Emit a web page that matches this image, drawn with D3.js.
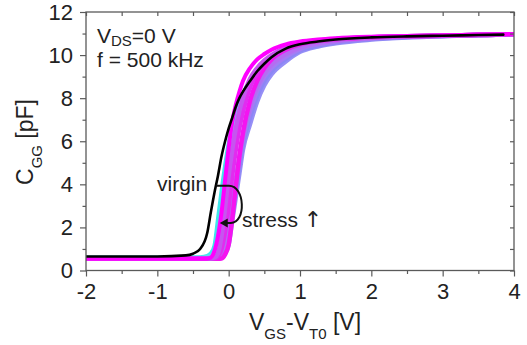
<!DOCTYPE html>
<html><head><meta charset="utf-8">
<script src="https://cdn.jsdelivr.net/npm/d3@7"></script>
<style>
html,body{margin:0;padding:0;background:#fff;}
svg{display:block;font-family:"Liberation Sans",Arial,sans-serif;}
</style></head>
<body>
<svg id="chart" width="527" height="345"></svg>
<script>
// ---------- data ----------
const vgs = [-2, -1, -0.6, -0.5, -0.4, -0.3, -0.25, -0.2, -0.15, -0.1, -0.05, 0, 0.05, 0.1, 0.15, 0.2, 0.3, 0.4, 0.5, 0.6, 0.8, 1.0, 1.25, 1.5, 2.0, 2.5, 3.0, 3.5, 3.85, 4.0];

const cVirgin  = [0.65,0.65,0.7,0.78,1.0,1.75,2.7,3.6,4.4,5.3,6.0,6.6,7.1,7.6,8.0,8.3,8.8,9.25,9.6,9.9,10.3,10.5,10.63,10.72,10.82,10.87,10.9,10.93,10.95,null];
const cCyan    = [0.6,0.6,0.6,0.61,0.62,0.68,0.8,1.15,2.4,3.7,4.9,5.9,6.7,7.3,7.8,8.2,8.8,9.22,9.56,9.86,10.26,10.48,10.61,10.7,10.8,10.86,10.9,10.93,10.95,10.96];
const cLightBlue=[0.58,0.58,0.58,0.58,0.59,0.62,0.68,0.85,1.6,2.8,4.1,5.3,6.3,7.0,7.6,8.05,8.7,9.15,9.5,9.8,10.2,10.45,10.6,10.7,10.8,10.86,10.9,10.93,10.95,10.96];
const cViolet1 = [0.55,0.55,0.55,0.55,0.55,0.55,0.55,0.55,0.56,0.6,0.8,1.2,2.3,3.4,4.5,5.6,6.8,7.85,8.6,9.1,9.7,10.15,10.4,10.55,10.72,10.82,10.88,10.92,10.95,10.96];
const cBlue    = [0.55,0.55,0.55,0.55,0.55,0.55,0.55,0.55,0.56,0.62,0.9,1.5,2.65,3.8,4.85,5.85,7.1,8.1,8.8,9.25,9.82,10.22,10.45,10.6,10.75,10.84,10.89,10.93,10.95,10.96];
const cViolet2 = [0.55,0.55,0.55,0.55,0.55,0.55,0.55,0.55,0.56,0.65,1.0,1.8,3.0,4.2,5.2,6.1,7.4,8.35,9.0,9.4,9.92,10.28,10.5,10.63,10.77,10.85,10.89,10.93,10.95,10.97];
const cViolet3 = [0.55,0.55,0.55,0.55,0.55,0.55,0.55,0.55,0.56,0.62,0.9,1.5,2.7,4.05,5.25,6.25,7.65,8.55,9.15,9.55,10.05,10.35,10.55,10.67,10.79,10.86,10.9,10.93,10.95,10.97];
const cMagenta1= [0.55,0.55,0.55,0.55,0.55,0.55,0.55,0.55,0.55,0.56,0.75,1.2,2.4,3.9,5.3,6.4,7.9,8.8,9.4,9.8,10.25,10.5,10.65,10.73,10.82,10.87,10.9,10.93,10.95,10.97];
const cMagenta3= [0.55,0.55,0.55,0.55,0.55,0.55,0.55,0.56,0.65,1.0,1.8,3.0,4.4,5.6,6.6,7.35,8.5,9.15,9.6,9.9,10.3,10.53,10.66,10.74,10.83,10.88,10.91,10.94,10.96,10.97];
const cPurple  = [0.55,0.55,0.55,0.55,0.55,0.55,0.56,0.6,0.8,1.6,2.9,4.4,5.6,6.6,7.4,8.0,8.9,9.4,9.75,10.0,10.35,10.55,10.67,10.75,10.83,10.88,10.91,10.94,10.96,10.97];
const cMagenta2= [0.55,0.55,0.55,0.55,0.55,0.55,0.6,0.9,1.6,2.7,4.2,5.7,6.9,7.7,8.3,8.8,9.4,9.8,10.05,10.25,10.5,10.63,10.72,10.78,10.85,10.89,10.92,10.95,10.97,10.98];

const seriesNames  = ["cyan","lightblue","violet1","blue","violet2","violet3","magenta1","magenta3","purple","magenta2","virgin"];
const seriesValues = [cCyan, cLightBlue, cViolet1, cBlue, cViolet2, cViolet3, cMagenta1, cMagenta3, cPurple, cMagenta2, cVirgin];
const seriesColors = ["#3fe6ea","#6fd0f2","#968ff6","#8c86f5","#a57cf4","#b56cf2","#f414f0","#e22cf0","#c655ef","#ff00ff","#000000"];
const seriesWidths = [4, 4, 4.5, 4.5, 4.5, 4.5, 4.5, 4.5, 4.5, 4, 2.6];

const xMajor = [-2,-1,0,1,2,3,4];
const xMinor = [-1.5,-0.5,0.5,1.5,2.5,3.5];
const yMajor = [0,2,4,6,8,10,12];
const yMinor = [1,3,5,7,9,11];

// annotation arrow in data units [V, C]
const arrowPts = [[-0.178,3.93],[0.004,3.93]];
const arrowCurve = [[0.004,3.93],[0.23,3.93],[0.25,2.23],[0.03,2.21]];
const arrowTip = [-0.125,2.21];

// ---------- layout ----------
const svg = d3.select("#chart");
const L = 86, R = 514, T = 12, B = 270.5;
const x = d3.scaleLinear().domain([-2,4]).range([L,R]);
const y = d3.scaleLinear().domain([0,12]).range([B,T]);
const axisColor = "#5a5a5a";
const textColor = "#222";

svg.append("rect").attr("width",527).attr("height",345).attr("fill","#fff");

svg.append("clipPath").attr("id","clip").append("rect")
  .attr("x",L).attr("y",T).attr("width",R-L).attr("height",B-T);

// ---------- curves ----------
const line = d3.line()
  .defined(d => d[1] != null)
  .x(d => x(d[0])).y(d => y(d[1]))
  .curve(d3.curveMonotoneX);

const g = svg.append("g").attr("clip-path","url(#clip)");
seriesValues.forEach((vals,i) => {
  g.append("path")
    .datum(vgs.map((v,j) => [v, vals[j]]))
    .attr("d", line)
    .attr("fill","none")
    .attr("stroke", seriesColors[i])
    .attr("stroke-width", seriesWidths[i])
    .attr("stroke-linejoin","round")
    .attr("stroke-linecap","round");
});

// ---------- axes ----------
function styleAxis(sel){
  sel.select(".domain").remove();
  sel.selectAll("line").attr("stroke",axisColor).attr("stroke-width",1.2);
  sel.selectAll("text").attr("fill",textColor).style("font-size","22px")
     .style("font-family","'Liberation Sans',Arial,sans-serif");
}
const fmt = d => d < 0 ? "-" + Math.abs(d) : String(d);

svg.append("g").attr("transform",`translate(0,${B})`)
  .call(d3.axisBottom(x).tickValues(xMajor).tickSize(6).tickPadding(7).tickFormat(fmt))
  .call(styleAxis);
svg.append("g").attr("transform",`translate(0,${B})`)
  .call(d3.axisBottom(x).tickValues(xMinor).tickSize(3.5).tickFormat(""))
  .call(styleAxis);
svg.append("g").attr("transform",`translate(${L},0)`)
  .call(d3.axisLeft(y).tickValues(yMajor).tickSize(6).tickPadding(7).tickFormat(fmt))
  .call(styleAxis);
svg.append("g").attr("transform",`translate(${L},0)`)
  .call(d3.axisLeft(y).tickValues(yMinor).tickSize(3.5).tickFormat(""))
  .call(styleAxis);
svg.append("g").attr("transform",`translate(0,${T})`)
  .call(d3.axisTop(x).tickValues(xMajor.concat(xMinor)).tickSize(-4).tickFormat(""))
  .call(styleAxis);
svg.append("g").attr("transform",`translate(${R},0)`)
  .call(d3.axisRight(y).tickValues(yMajor.concat(yMinor)).tickSize(-4).tickFormat(""))
  .call(styleAxis);

svg.append("rect").attr("x",L).attr("y",T).attr("width",R-L).attr("height",B-T)
  .attr("fill","none").attr("stroke",axisColor).attr("stroke-width",1.3);

// ---------- titles ----------
const xt = svg.append("text").attr("x",305).attr("y",330).attr("text-anchor","middle")
  .attr("fill",textColor).style("font-size","23px");
xt.append("tspan").text("V");
xt.append("tspan").attr("dy",9).style("font-size","15px").text("GS");
xt.append("tspan").attr("dy",-9).text("-V");
xt.append("tspan").attr("dy",9).style("font-size","15px").text("T0");
xt.append("tspan").attr("dy",-9).text(" [V]");

const yt = svg.append("text").attr("transform","translate(33,142) rotate(-90)")
  .attr("text-anchor","middle").attr("fill",textColor).style("font-size","23px");
yt.append("tspan").text("C");
yt.append("tspan").attr("dy",9).style("font-size","15px").text("GG");
yt.append("tspan").attr("dy",-9).text(" [pF]");

const l1 = svg.append("text").attr("x",97).attr("y",43).attr("fill",textColor).style("font-size","21px");
l1.append("tspan").text("V");
l1.append("tspan").attr("dy",3).style("font-size","15px").text("DS");
l1.append("tspan").attr("dy",-3).text("=0 V");
svg.append("text").attr("x",97).attr("y",67).attr("fill",textColor).style("font-size","21px").text("f = 500 kHz");

// annotations
svg.append("text").attr("x",157).attr("y",191).attr("fill",textColor).style("font-size","21px").text("virgin");
const st = svg.append("text").attr("x",242).attr("y",227).attr("fill",textColor).style("font-size","21px");
st.append("tspan").text("stress ");
st.append("tspan").attr("fill",textColor).attr("font-family","DejaVu Sans")
  .style("font-family","'DejaVu Sans'").style("font-size","22px").text("\u2191");

const ap = d3.path();
ap.moveTo(x(arrowPts[0][0]), y(arrowPts[0][1]));
ap.lineTo(x(arrowPts[1][0]), y(arrowPts[1][1]));
ap.bezierCurveTo(x(arrowCurve[1][0]), y(arrowCurve[1][1]), x(arrowCurve[2][0]), y(arrowCurve[2][1]), x(arrowCurve[3][0]), y(arrowCurve[3][1]));
ap.lineTo(x(arrowTip[0])+5, y(arrowTip[1]));
svg.append("path").attr("d",ap.toString()).attr("fill","none").attr("stroke","#111").attr("stroke-width",2);
const tx = x(arrowTip[0]), ty = y(arrowTip[1]);
svg.append("path").attr("d",`M${tx},${ty} L${tx+8},${ty-4.5} L${tx+8},${ty+4.5} Z`).attr("fill","#111");
</script>
</body></html>
